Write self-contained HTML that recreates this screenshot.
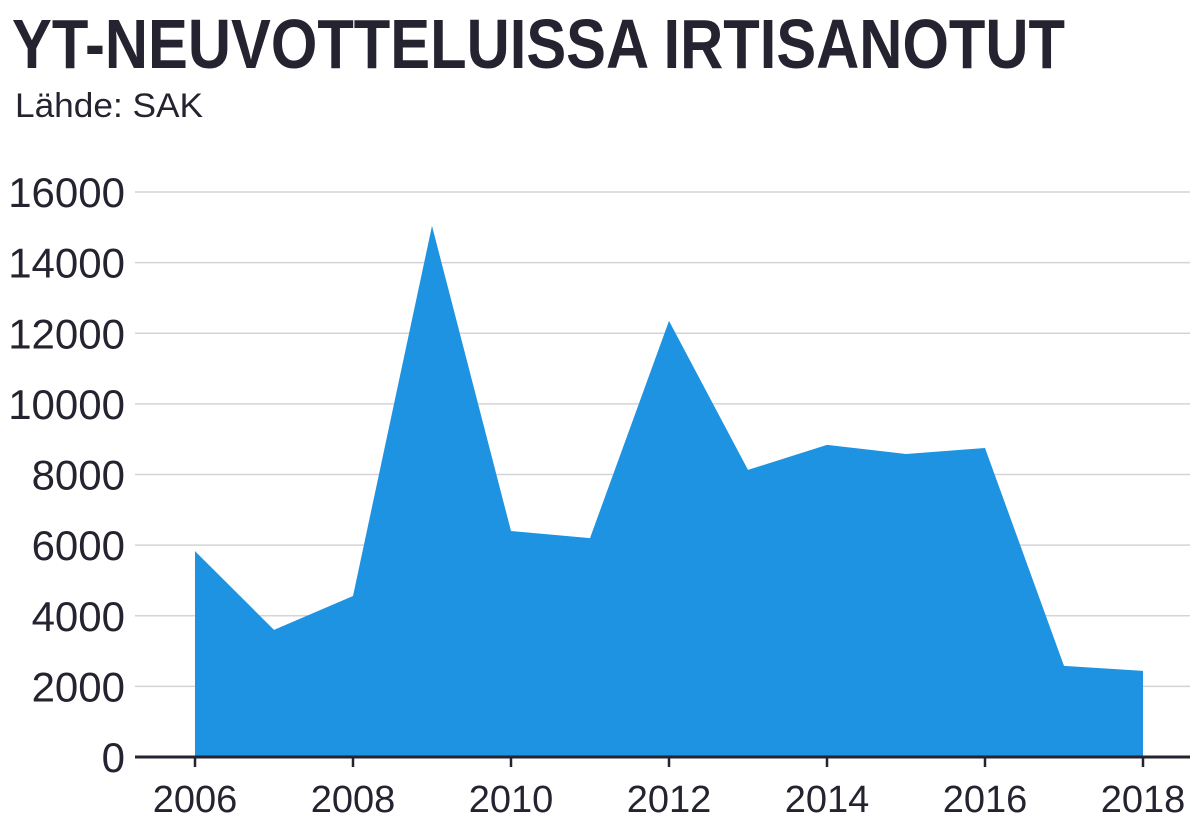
<!DOCTYPE html>
<html><head><meta charset="utf-8"><style>
body{margin:0;background:#fff}
svg{display:block}
text{font-family:"Liberation Sans Narrow","Liberation Sans",sans-serif;fill:#24232f}
</style></head><body>
<svg id="chart" width="1199" height="834" viewBox="0 0 1199 834">
<text x="12" y="68" font-size="70" font-weight="bold" textLength="1053" lengthAdjust="spacingAndGlyphs">YT-NEUVOTTELUISSA IRTISANOTUT</text>
<text x="15" y="117" font-size="34" textLength="188" lengthAdjust="spacingAndGlyphs">Lähde: SAK</text>
<g id="grid"></g><g id="area"></g><g id="axes"></g>
</svg>
<script>
const years=[2006,2007,2008,2009,2010,2011,2012,2013,2014,2015,2016,2017,2018];
const values=[5830,3600,4560,15040,6400,6200,12350,8130,8840,8580,8750,2580,2440];
const yTicks=[0,2000,4000,6000,8000,10000,12000,14000,16000];
const xTicks=[2006,2008,2010,2012,2014,2016,2018];
const NS="http://www.w3.org/2000/svg";
const x=v=>195+(v-2006)*(1143-195)/12;
const y=v=>757-v*(757-192)/16000;
function mk(t,a,p){const e=document.createElementNS(NS,t);for(const k in a)e.setAttribute(k,a[k]);p.appendChild(e);return e;}
const g=document.getElementById('grid'),ar=document.getElementById('area'),ax=document.getElementById('axes');
yTicks.forEach(v=>{
 if(v>0){const l=mk('line',{x1:135,x2:1190,y1:y(v),y2:y(v),stroke:'#d4d4d8','stroke-width':1.5},g);
 
 }
 const t=mk('text',{x:125,y:y(v)+15,'font-size':42,'text-anchor':'end'},g);
 t.textContent=v;
 
 
});
let d='M'+x(years[0])+','+y(0);
years.forEach((yr,i)=>{d+=' L'+x(yr)+','+y(values[i]);});
d+=' L'+x(years[years.length-1])+','+y(0)+' Z';
const p=mk('path',{d:d,fill:'#1e93e1'},ar);


const base=mk('line',{x1:135,x2:1190,y1:y(0),y2:y(0),stroke:'#24232f','stroke-width':3},ax);


xTicks.forEach(v=>{
 const l=mk('line',{x1:x(v),x2:x(v),y1:y(0),y2:y(0)+10,stroke:'#24232f','stroke-width':2.5},ax);
 
 
 const t=mk('text',{x:x(v),y:812,'font-size':38,'text-anchor':'middle'},ax);
 t.textContent=v;
 
 
});
</script>
</body></html>
